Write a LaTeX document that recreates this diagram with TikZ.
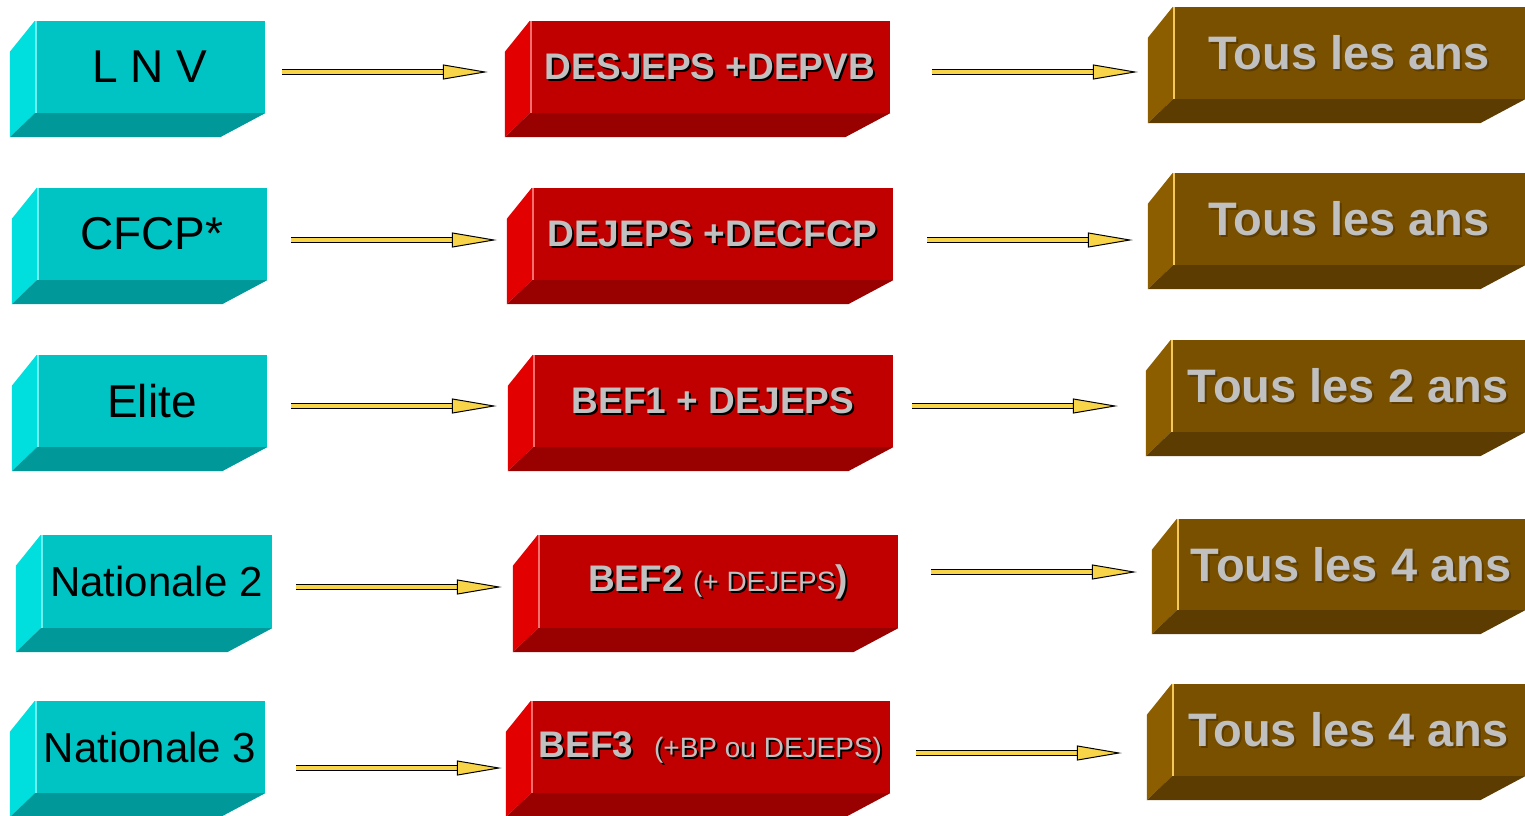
\documentclass[tikz,border=0pt]{standalone}
\usepackage{fontspec}
\setmainfont{Liberation Sans}
\usetikzlibrary{positioning, calc, arrows.meta}

\definecolor{tqfront}{RGB}{0,196,196}
\definecolor{tqside}{RGB}{0,222,222}
\definecolor{tqbase}{RGB}{0,152,152}
\definecolor{tqlight}{RGB}{110,240,240}
\definecolor{rdfront}{RGB}{192,0,0}
\definecolor{rdside}{RGB}{226,0,0}
\definecolor{rdbase}{RGB}{153,0,0}
\definecolor{rdlight}{RGB}{250,110,110}
\definecolor{brfront}{RGB}{120,80,0}
\definecolor{brside}{RGB}{140,94,0}
\definecolor{brbase}{RGB}{92,60,0}
\definecolor{brlight}{RGB}{245,200,90}
\definecolor{txtgray}{RGB}{192,192,192}
\definecolor{arrowyellow}{RGB}{248,212,72}

\newcommand{\dropshadow}[2]{\makebox[0pt][l]{\kern2pt\smash{\raisebox{-2pt}{\color{#1}#2}}}#2}

\begin{document}
\begin{tikzpicture}[x=1pt,y=-1pt,
  every node/.style={rectangle,inner sep=0pt,minimum height=92pt,align=center},
  tqbox/.style={fill=tqfront,minimum width=230pt,font=\fontsize{46}{50}\selectfont},
  rdbox/.style={fill=rdfront,minimum width=360pt,text=txtgray,font=\bfseries\fontsize{37}{40}\selectfont},
  brbox/.style={fill=brfront,minimum width=352pt,text=txtgray,font=\bfseries\fontsize{47}{50}\selectfont},
  flow/.style={draw=black,line width=1pt,double=arrowyellow,double distance=4pt,
    -{Triangle[length=45pt,width=15pt,line width=1pt,fill=arrowyellow]}}]
  \useasboundingbox (0,0) rectangle (1525,816);
%
  \node(lnv)[tqbox] at (150,67) {L N V};
  \node(cfcp)[tqbox] at (152,234) {CFCP*};
  \node(elite)[tqbox] at (152,401) {Elite};
  \node(natdeux)[tqbox,minimum width=231pt,minimum height=93pt,font=\fontsize{42}{46}\selectfont] at (156.5,581.5) {Nationale 2};
  \node(nattrois)[tqbox,font=\fontsize{42}{46}\selectfont] at (150,747) {Nationale 3};
%
  \node(desjeps)[rdbox] at (710,67) {\dropshadow{black}{DESJEPS +DEPVB}};
  \node(dejeps)[rdbox,minimum width=361pt] at (712.5,234) {\dropshadow{black}{DEJEPS +DECFCP}};
  \node(bef1)[rdbox] at (713,401) {\dropshadow{black}{BEF1 + DEJEPS}};
  \node(bef2)[rdbox,minimum height=93pt] at (718,581.5) {\dropshadow{black}{BEF2 {\mdseries\fontsize{28}{32}\selectfont(+ DEJEPS})}};
  \node(bef3)[rdbox,minimum width=359pt] at (710.5,747) {\dropshadow{black}{BEF3\ \ {\mdseries\fontsize{28}{32}\selectfont(+BP ou DEJEPS)}}};
%
  \node(ansa)[brbox] at (1349,53) {\dropshadow{brbase}{Tous les ans}};
  \node(ansb)[brbox] at (1349,219) {\dropshadow{brbase}{Tous les ans}};
  \node(ansc)[brbox,minimum width=354pt] at (1348,386) {\dropshadow{brbase}{Tous les 2 ans}};
  \node(ansd)[brbox,minimum width=348pt,minimum height=91pt] at (1351,564.5) {\dropshadow{brbase}{Tous les 4 ans}};
  \node(anse)[brbox,minimum width=353pt] at (1348.5,730) {\dropshadow{brbase}{Tous les 4 ans}};
%
\foreach \n/\col in {lnv/tq,cfcp/tq,elite/tq,natdeux/tq,nattrois/tq,
                     desjeps/rd,dejeps/rd,bef1/rd,bef2/rd,bef3/rd,
                     ansa/br,ansb/br,ansc/br,ansd/br,anse/br}{
  \fill[fill=\col side](\n.north west)--++(-25,31)--($(\n.south west)+(-25,24)$)--(\n.south west)--cycle;
  \fill[fill=\col base](\n.south west)--++(-25,24)--($(\n.south east)+(-45,24)$)--(\n.south east)--cycle;
  \draw[draw=\col light,line width=1.5pt]([xshift=1pt]\n.north west)--([xshift=1pt]\n.south west);
}
%
\draw[flow,shorten <=17pt,shorten >=42pt]($(lnv.east)+(0,5)$)--($(lnv.east -| desjeps.west)+(0,5)$);
\draw[flow,shorten <=42pt,shorten >=35pt]($(desjeps.east)+(0,5)$)--($(desjeps.east -| ansa.west)+(0,5)$);
\draw[flow,shorten <=24pt,shorten >=35pt]($(cfcp.east)+(0,6)$)--($(cfcp.east -| dejeps.west)+(0,6)$);
\draw[flow,shorten <=34pt,shorten >=40pt]($(dejeps.east)+(0,6)$)--($(dejeps.east -| ansb.west)+(0,6)$);
\draw[flow,shorten <=24pt,shorten >=36pt]($(elite.east)+(0,5)$)--($(elite.east -| bef1.west)+(0,5)$);
\draw[flow,shorten <=19pt,shorten >=53pt]($(bef1.east)+(0,5)$)--($(bef1.east -| ansc.west)+(0,5)$);
\draw[flow,shorten <=24pt,shorten >=36pt]($(natdeux.east)+(0,5.5)$)--($(natdeux.east -| bef2.west)+(0,5.5)$);
\draw[flow,shorten <=33pt,shorten >=40pt]($(bef2.east)+(0,-9.5)$)--($(bef2.east -| ansd.west)+(0,-9.5)$);
\draw[flow,shorten <=31pt,shorten >=29pt]($(nattrois.east)+(0,21)$)--($(nattrois.east -| bef3.west)+(0,21)$);
\draw[flow,shorten <=26pt,shorten >=50pt]($(bef3.east)+(0,6)$)--($(bef3.east -| anse.west)+(0,6)$);
\end{tikzpicture}
\end{document}
